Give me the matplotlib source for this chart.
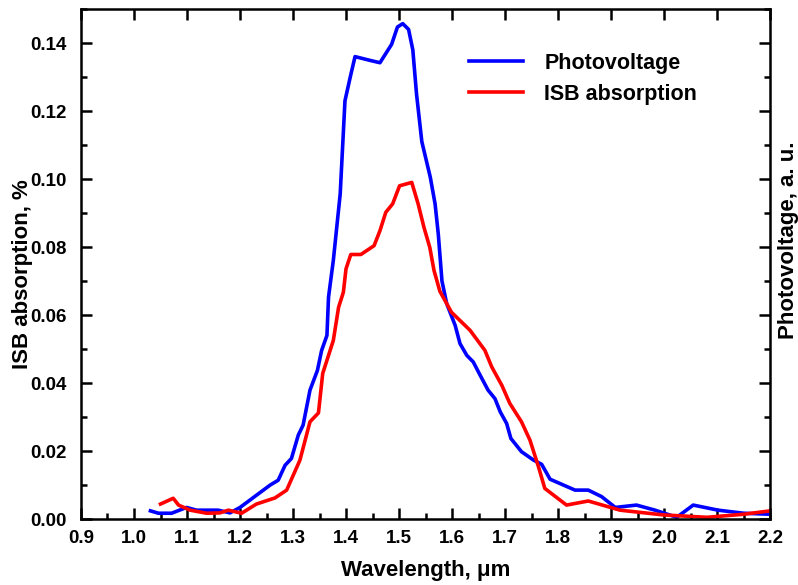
import matplotlib
matplotlib.use("Agg")
import matplotlib.pyplot as plt
from matplotlib.ticker import MultipleLocator

plt.rcParams['font.family'] = ['Liberation Sans', 'DejaVu Sans']
plt.rcParams['font.weight'] = 'bold'

# Photovoltage (blue)
pv_x = [1.031, 1.046, 1.071, 1.099, 1.118, 1.159, 1.181, 1.200, 1.219, 1.257,
        1.272, 1.285, 1.297, 1.310, 1.319, 1.332, 1.346, 1.354, 1.364, 1.367,
        1.376, 1.389, 1.398, 1.408, 1.417, 1.445, 1.464, 1.486, 1.497, 1.507,
        1.518, 1.526, 1.533, 1.543, 1.559, 1.568, 1.574, 1.581, 1.590, 1.606,
        1.615, 1.628, 1.640, 1.653, 1.668, 1.681, 1.691, 1.703, 1.711, 1.731,
        1.754, 1.769, 1.785, 1.832, 1.857, 1.882, 1.908, 1.948, 1.983, 2.024,
        2.055, 2.102, 2.150, 2.200]
pv_y = [0.0024, 0.0017, 0.0017, 0.0034, 0.0026, 0.0026, 0.0018, 0.0034, 0.0056, 0.0100,
        0.0114, 0.0158, 0.0178, 0.0247, 0.0276, 0.0379, 0.0437, 0.0496, 0.0540, 0.0653,
        0.0760, 0.0956, 0.1230, 0.1300, 0.1360, 0.1349, 0.1342, 0.1396, 0.1447, 0.1457,
        0.1440, 0.1380, 0.1250, 0.1110, 0.1005, 0.0927, 0.0839, 0.0700, 0.0633, 0.0569,
        0.0516, 0.0481, 0.0462, 0.0423, 0.0379, 0.0354, 0.0315, 0.0281, 0.0237, 0.0198,
        0.0173, 0.0161, 0.0117, 0.0085, 0.0085, 0.0066, 0.0034, 0.0041, 0.0026, 0.0005,
        0.0041, 0.0026, 0.0017, 0.0014]

# ISB absorption (red)
isb_x = [1.050, 1.074, 1.084, 1.106, 1.137, 1.162, 1.178, 1.203, 1.231, 1.266,
         1.288, 1.313, 1.332, 1.348, 1.356, 1.376, 1.386, 1.395, 1.400, 1.409,
         1.428, 1.453, 1.464, 1.475, 1.488, 1.501, 1.524, 1.536, 1.547, 1.558,
         1.566, 1.577, 1.599, 1.634, 1.662, 1.675, 1.694, 1.709, 1.731, 1.747,
         1.763, 1.775, 1.816, 1.857, 1.917, 1.999, 2.081, 2.150, 2.200]
isb_y = [0.0044, 0.0061, 0.0041, 0.0026, 0.0017, 0.0018, 0.0026, 0.0017, 0.0044, 0.0062,
         0.0085, 0.0173, 0.0286, 0.0312, 0.0428, 0.0525, 0.0623, 0.0667, 0.0736, 0.0778,
         0.0778, 0.0804, 0.0848, 0.0902, 0.0927, 0.0980, 0.0990, 0.0927, 0.0858, 0.0799,
         0.0731, 0.0670, 0.0608, 0.0555, 0.0496, 0.0447, 0.0393, 0.0340, 0.0286, 0.0232,
         0.0154, 0.0090, 0.0041, 0.0053, 0.0026, 0.0012, 0.0005, 0.0014, 0.0024]

fig = plt.figure(figsize=(7.98, 5.85), dpi=100)
ax = fig.add_axes([0.1015, 0.1128, 0.8635, 0.8718])

ax.plot(pv_x, pv_y, color='#0000ff', lw=2.6, label='Photovoltage')
ax.plot(isb_x, isb_y, color='#ff0000', lw=2.6, label='ISB absorption')

ax.set_xlim(0.9, 2.2)
ax.set_ylim(0, 0.15)
ax.xaxis.set_major_locator(MultipleLocator(0.1))
ax.xaxis.set_minor_locator(MultipleLocator(0.05))
ax.yaxis.set_major_locator(MultipleLocator(0.02))
ax.yaxis.set_minor_locator(MultipleLocator(0.01))
ax.xaxis.set_major_formatter(plt.FormatStrFormatter('%.1f'))
ax.yaxis.set_major_formatter(plt.FormatStrFormatter('%.2f'))

for s in ax.spines.values():
    s.set_linewidth(1.8)
ax.tick_params(which='both', direction='in', top=True, right=True, width=1.8,
               labelsize=13.5)
ax.tick_params(axis='x', pad=8)
ax.tick_params(axis='y', pad=10)
ax.tick_params(which='major', length=8)
ax.tick_params(which='minor', length=4)
ax.tick_params(axis='x', which='minor', top=False)

ax.set_xlabel('Wavelength, μm', fontsize=16, fontweight='bold', labelpad=9)
fig.text(0.028, 0.532, 'ISB absorption, %', rotation=90, fontsize=16,
         fontweight='bold', ha='center', va='center')
fig.text(0.988, 0.59, 'Photovoltage, a. u.', rotation=90, fontsize=16,
         fontweight='bold', ha='center', va='center')

leg = ax.legend(loc='upper left', bbox_to_anchor=(0.535, 0.952), frameon=False,
                fontsize=15.5, handlelength=2.5, handletextpad=1.0,
                labelspacing=0.45)
for t in leg.get_texts():
    t.set_fontweight('bold')

fig.savefig('out.png', dpi=100)
